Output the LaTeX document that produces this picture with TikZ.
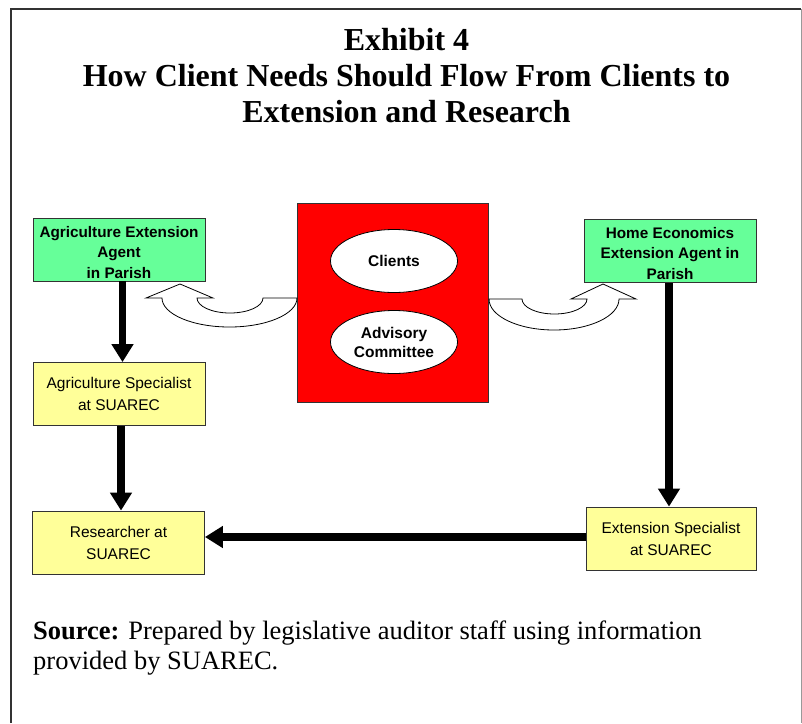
\documentclass[tikz,border=0pt]{standalone}
\usepackage{fontspec}
\setmainfont{Liberation Serif}
\newfontfamily\arialfont{Liberation Sans}
\usetikzlibrary{arrows.meta,shapes.geometric}
\definecolor{boxgreen}{HTML}{66FF99}
\definecolor{boxyellow}{HTML}{FFFF99}
\definecolor{boxred}{HTML}{FF0000}
\tikzset{
  greenbox/.style={draw=black!80, line width=0.8pt, fill=boxgreen, minimum width=172pt, minimum height=63pt, inner sep=0pt, align=center, font=\arialfont\bfseries\fontsize{15.3}{20.5}\selectfont},
  yellowbox/.style={draw=black!80, line width=0.8pt, fill=boxyellow, minimum width=172pt, minimum height=63pt, inner sep=0pt, align=center, font=\arialfont\fontsize{15.5}{22}\selectfont},
  oval/.style={ellipse, draw=black, line width=0.8pt, fill=white, minimum width=127pt, minimum height=63pt, inner sep=0pt, align=center, font=\arialfont\bfseries\fontsize{15.5}{19}\selectfont},
  flow/.style={line width=7.5pt, -{Triangle[width=21pt,length=18pt]}},
  uturn/.style={draw=black, line width=0.8pt, fill=white},
}
\begin{document}
\begin{tikzpicture}[x=1pt,y=-1pt]
\useasboundingbox (0,0) rectangle (802,723);
% frame
\draw[line width=1.2pt, black!80] (11,723) -- (11,9) -- (801,9);
\draw[line width=1pt, black!40] (801,9) -- (801,723);
% title
\node (title) at (406.5,76) [align=center, font=\bfseries\fontsize{32}{36}\selectfont] {Exhibit 4\\How Client Needs Should Flow From Clients to\\Extension and Research};
% red block
\node (red) at (392.5,302.5) [draw=black!80, line width=0.8pt, fill=boxred, minimum width=191pt, minimum height=199pt, inner sep=0pt] {};
\node (clients) at (394,261) [oval] {Clients};
\node (advisory) at (394,342) [oval] {Advisory\\Committee};
% boxes
\node (agagent) at (119,249.5) [greenbox] {\rule{0pt}{17pt}Agriculture Extension\\Agent\\in Parish};
\node (agspec) at (119,394) [yellowbox] {Agriculture Specialist\\at SUAREC};
\node (research) at (118.5,542.5) [yellowbox] {Researcher at\\SUAREC};
\node (heagent) at (670,251) [greenbox] {\rule{0pt}{16pt}Home Economics\\Extension Agent in\\Parish};
\node (extspec) at (671,538.5) [yellowbox, minimum width=170pt] {Extension Specialist\\at SUAREC};
% u-turn arrows
\draw[uturn] (297,298) arc[start angle=0, end angle=180, x radius=67.5, y radius=29]
  -- (146,298) -- (180,284) -- (213,298) -- (197,298)
  arc[start angle=180, end angle=0, x radius=33, y radius=15] -- cycle;
\draw[uturn] (489,299) arc[start angle=180, end angle=0, x radius=65, y radius=31]
  -- (636,299) -- (603,284) -- (571,299) -- (587,299)
  arc[start angle=0, end angle=180, x radius=32.5, y radius=15] -- cycle;
% flows
\coordinate (hy) at (0,537);
\draw[flow] ([xshift=3.5pt]agagent.south) -- ([xshift=3.5pt]agspec.north);
\draw[flow] ([xshift=2pt]agspec.south) -- ([xshift=2.5pt]research.north);
\draw[flow] ([xshift=-1pt]heagent.south) -- ([xshift=-2pt]extspec.north);
\draw[flow] (extspec.west |- hy) -- (research.east |- hy);
% source
\node (source) at (33,648) [anchor=west, align=left, inner sep=0pt, font=\fontsize{26.5}{30}\selectfont] {\textbf{Source:} Prepared by legislative auditor staff using information\\provided by SUAREC.};
\end{tikzpicture}
\end{document}
